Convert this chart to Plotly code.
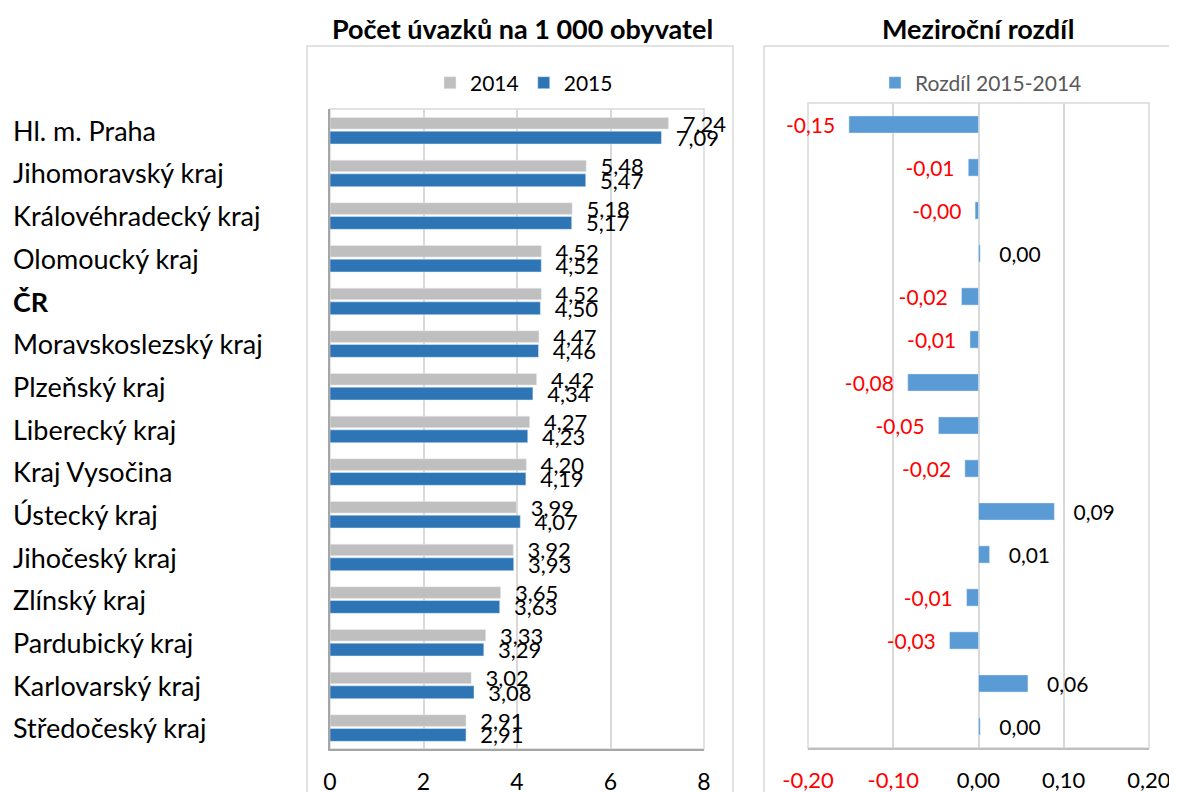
import plotly.graph_objects as go

W, H = 1177, 792
PAGE_OFFSET = 8  # body margin of the html page

regions = ["Hl. m. Praha", "Jihomoravský kraj", "Královéhradecký kraj", "Olomoucký kraj",
           "ČR", "Moravskoslezský kraj", "Plzeňský kraj", "Liberecký kraj", "Kraj Vysočina",
           "Ústecký kraj", "Jihočeský kraj", "Zlínský kraj", "Pardubický kraj",
           "Karlovarský kraj", "Středočeský kraj"]
v2014 = [7.24, 5.48, 5.18, 4.52, 4.52, 4.47, 4.42, 4.27, 4.20, 3.99, 3.92, 3.65, 3.33, 3.02, 2.91]
v2015 = [7.09, 5.47, 5.17, 4.52, 4.50, 4.46, 4.34, 4.23, 4.19, 4.07, 3.93, 3.63, 3.29, 3.08, 2.91]
diff = [-0.152, -0.012, -0.004, 0.002, -0.020, -0.010, -0.083, -0.047, -0.016,
        0.089, 0.013, -0.014, -0.034, 0.058, 0.002]

left_ticks = [0, 2, 4, 6, 8]
right_ticks = [-0.2, -0.1, 0.0, 0.1, 0.2]

FONT = "Lato, 'Open Sans', sans-serif"
GRID = "#D9D9D9"
RED = "#FF0000"
NB = "\u00a0"


def fmt(v):
    return f"{v:.2f}".replace(".", ",")


# screen pixel -> paper fraction
def px_x(p):
    return (p - PAGE_OFFSET) / W


def px_y(p):
    return (H - (p - PAGE_OFFSET)) / H


fig = go.Figure()

# left panel - 2014 / 2015
fig.add_trace(go.Bar(
    y=regions, x=v2014, orientation="h", name="2014",
    marker=dict(color="#BFBFBF"), offset=-0.30, width=0.27,
    text=[NB * 2 + fmt(v) for v in v2014], textposition="outside",
    textfont=dict(color="black", size=22, family=FONT),
    constraintext="none", cliponaxis=False,
    xaxis="x", yaxis="y", legend="legend"
))
fig.add_trace(go.Bar(
    y=regions, x=v2015, orientation="h", name="2015",
    marker=dict(color="#2E75B6"), offset=0.02, width=0.30,
    text=[NB * 2 + fmt(v) for v in v2015], textposition="outside",
    textfont=dict(color="black", size=22, family=FONT),
    constraintext="none", cliponaxis=False,
    xaxis="x", yaxis="y", legend="legend"
))

# right panel - difference
fig.add_trace(go.Bar(
    y=regions, x=diff, orientation="h", name="Rozdíl 2015-2014",
    marker=dict(color="#5B9BD5"), width=0.4,
    text=[(fmt(v) + NB * 2) if v < 0 else (NB * 3 + fmt(v)) for v in diff],
    textposition="outside",
    textfont=dict(color=[RED if v < 0 else "black" for v in diff], size=21, family=FONT),
    constraintext="none", cliponaxis=False,
    xaxis="x2", yaxis="y2", legend="legend2"
))

# region names on the far left
for r in regions:
    fig.add_annotation(
        x=px_x(11), xref="paper", xanchor="left", y=r, yref="y", yanchor="middle",
        text=f"<b>{r}</b>" if r == "ČR" else r, showarrow=False,
        font=dict(size=27, color="black", family=FONT)
    )

# panel titles
fig.add_annotation(x=px_x(522), y=px_y(28), xref="paper", yref="paper",
                   xanchor="center", yanchor="middle",
                   text="<b>Počet úvazků na 1 000 obyvatel</b>", showarrow=False,
                   font=dict(size=27, color="black", family=FONT))
fig.add_annotation(x=px_x(978), y=px_y(28), xref="paper", yref="paper",
                   xanchor="center", yanchor="middle",
                   text="<b>Meziroční rozdíl</b>", showarrow=False,
                   font=dict(size=27, color="black", family=FONT))

# outer panel frames
fig.add_shape(type="rect", xref="paper", yref="paper",
              x0=px_x(307), x1=px_x(733), y0=px_y(830), y1=px_y(46),
              line=dict(color=GRID, width=1.5), layer="below")
fig.add_shape(type="rect", xref="paper", yref="paper",
              x0=px_x(764), x1=px_x(1220), y0=px_y(830), y1=px_y(46),
              line=dict(color=GRID, width=1.5), layer="below")
# plot-area frames
fig.add_shape(type="rect", xref="x domain", yref="y domain", x0=0, x1=1, y0=0, y1=1,
              line=dict(color=GRID, width=1.5), layer="below")
fig.add_shape(type="rect", xref="x2 domain", yref="y2 domain", x0=0, x1=1, y0=0, y1=1,
              line=dict(color=GRID, width=1.5), layer="below")

right_text = [(f"<span style='color:{RED}'>{fmt(t)}</span>" if t < 0 else fmt(t)) for t in right_ticks]

fig.update_layout(
    width=W, height=H,
    margin=dict(l=0, r=0, t=0, b=0, autoexpand=False),
    paper_bgcolor="white", plot_bgcolor="white",
    font=dict(family=FONT, color="black", size=21),
    barmode="overlay",
    showlegend=True,
    xaxis=dict(domain=[px_x(330), px_x(704)], anchor="y", range=[0, 8],
               tickvals=left_ticks, ticktext=[str(t) for t in left_ticks],
               showgrid=True, gridcolor=GRID, gridwidth=1.5, zeroline=False,
               showline=True, linecolor="#A6A6A6", linewidth=1.5,
               ticks="", ticklabelstandoff=12,
               tickfont=dict(size=23, color="black", family=FONT)),
    yaxis=dict(domain=[px_y(749), px_y(109)], anchor="x", autorange="reversed",
               showticklabels=False, showgrid=False, zeroline=False,
               showline=True, linecolor="#A6A6A6", linewidth=1.5, ticks=""),
    xaxis2=dict(domain=[px_x(808), px_x(1149)], anchor="y2", range=[-0.2, 0.2],
                tickvals=right_ticks, ticktext=right_text,
                showgrid=True, gridcolor=GRID, gridwidth=1.5,
                zeroline=True, zerolinecolor=GRID, zerolinewidth=1.5,
                showline=True, linecolor="#BFBFBF", linewidth=1.5,
                ticks="", ticklabelstandoff=12,
                tickfont=dict(size=22, color="black", family=FONT)),
    yaxis2=dict(domain=[px_y(748), px_y(103)], anchor="x2", autorange="reversed",
                showticklabels=False, showgrid=False, zeroline=False,
                showline=False, ticks=""),
    legend=dict(orientation="h", x=px_x(524), y=px_y(83), xanchor="center", yanchor="middle",
                font=dict(size=21, color="black", family=FONT), bgcolor="rgba(0,0,0,0)"),
    legend2=dict(orientation="h", x=px_x(981), y=px_y(83), xanchor="center", yanchor="middle",
                 font=dict(size=21, color="#595959", family=FONT), bgcolor="rgba(0,0,0,0)"),
)

fig.write_html("out.html")
